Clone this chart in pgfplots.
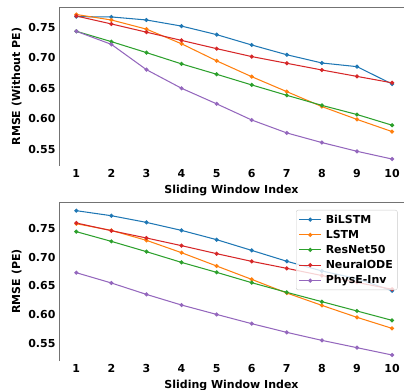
\documentclass[border=0pt]{standalone}
\usepackage{fontspec}
\setmainfont{DejaVu Sans}
\usepackage{pgfplots}
\pgfplotsset{compat=1.18}
\definecolor{tblue}{HTML}{1F77B4}
\definecolor{torange}{HTML}{FF7F0E}
\definecolor{tgreen}{HTML}{2CA02C}
\definecolor{tred}{HTML}{D62728}
\definecolor{tpurple}{HTML}{9467BD}
\pgfplotsset{
  myax/.style={
    scale only axis, width=345bp, height=159bp,
    xmin=0.507, xmax=10.34,
    xtick={1,...,10},
    ytick={0.55,0.60,0.65,0.70,0.75},
    yticklabel style={/pgf/number format/.cd,fixed,fixed zerofill,precision=2},
    /pgf/number format/assume math mode=true,
    major tick length=0pt,
    tick label style={font=\fontsize{11bp}{13bp}\selectfont\bfseries},
    label style={font=\fontsize{11bp}{13bp}\selectfont\bfseries},
    axis line style={draw=none},
    xlabel={Sliding Window Index},
    every axis plot/.append style={line width=1.05pt, mark=*, mark size=1.5pt},
    clip=false,
  },
}
\begin{document}
\begin{tikzpicture}
\useasboundingbox (0bp,0bp) rectangle (404bp,390bp);
\begin{axis}[myax, at={(59bp,224bp)}, anchor=south west,
  ymin=0.5226, ymax=0.7833, ylabel={RMSE (Without PE)}]
\draw[black!55, line width=0.9pt] (rel axis cs:0,0) -- (rel axis cs:0,1) -- (rel axis cs:1,1);
\addplot[tblue] coordinates {(1,0.7675)(2,0.767)(3,0.762)(4,0.752)(5,0.738)(6,0.721)(7,0.705)(8,0.6915)(9,0.6855)(10,0.657)};
\addplot[torange] coordinates {(1,0.771)(2,0.762)(3,0.747)(4,0.723)(5,0.695)(6,0.669)(7,0.6445)(8,0.620)(9,0.599)(10,0.579)};
\addplot[tgreen] coordinates {(1,0.7435)(2,0.7265)(3,0.7085)(4,0.690)(5,0.673)(6,0.6555)(7,0.6385)(8,0.622)(9,0.607)(10,0.5895)};
\addplot[tred] coordinates {(1,0.7685)(2,0.7555)(3,0.742)(4,0.7285)(5,0.715)(6,0.702)(7,0.691)(8,0.680)(9,0.6695)(10,0.659)};
\addplot[tpurple] coordinates {(1,0.7435)(2,0.722)(3,0.6805)(4,0.650)(5,0.6245)(6,0.598)(7,0.5768)(8,0.561)(9,0.5467)(10,0.534)};
\end{axis}
\begin{axis}[myax, at={(59bp,29bp)}, anchor=south west,
  ymin=0.5185, ymax=0.7967, ylabel={RMSE (PE)},
  legend style={at={(0.687,0.95)}, anchor=north west, draw=black!20, rounded corners=2bp,
    fill=white, fill opacity=0.8, text opacity=1,
    font=\fontsize{11bp}{13bp}\selectfont\bfseries, row sep=1.5bp, inner sep=2.5bp,
    /tikz/every odd column/.append style={column sep=2bp}},
  legend image code/.code={\draw[mark repeat=2,mark phase=2] plot coordinates {(0bp,0bp)(11bp,0bp)(22bp,0bp)};},
  legend cell align=left]
\draw[black!55, line width=0.9pt] (rel axis cs:0,0) -- (rel axis cs:0,1) -- (rel axis cs:1,1);
\addplot[tblue] coordinates {(1,0.7815)(2,0.7727)(3,0.761)(4,0.747)(5,0.7308)(6,0.712)(7,0.693)(8,0.676)(9,0.6625)(10,0.6415)};
\addplot[torange] coordinates {(1,0.7587)(2,0.747)(3,0.7296)(4,0.708)(5,0.6847)(6,0.6613)(7,0.6374)(8,0.6158)(9,0.5949)(10,0.5756)};
\addplot[tgreen] coordinates {(1,0.7448)(2,0.7278)(3,0.7098)(4,0.691)(5,0.6736)(6,0.6555)(7,0.6386)(8,0.6223)(9,0.606)(10,0.5896)};
\addplot[tred] coordinates {(1,0.760)(2,0.7465)(3,0.7337)(4,0.7203)(5,0.7063)(6,0.6928)(7,0.6806)(8,0.668)(9,0.656)(10,0.644)};
\addplot[tpurple] coordinates {(1,0.673)(2,0.655)(3,0.635)(4,0.6164)(5,0.600)(6,0.5838)(7,0.5686)(8,0.5546)(9,0.5418)(10,0.529)};
\legend{BiLSTM,LSTM,ResNet50,NeuralODE,PhysE-Inv}
\end{axis}
\end{tikzpicture}
\end{document}
